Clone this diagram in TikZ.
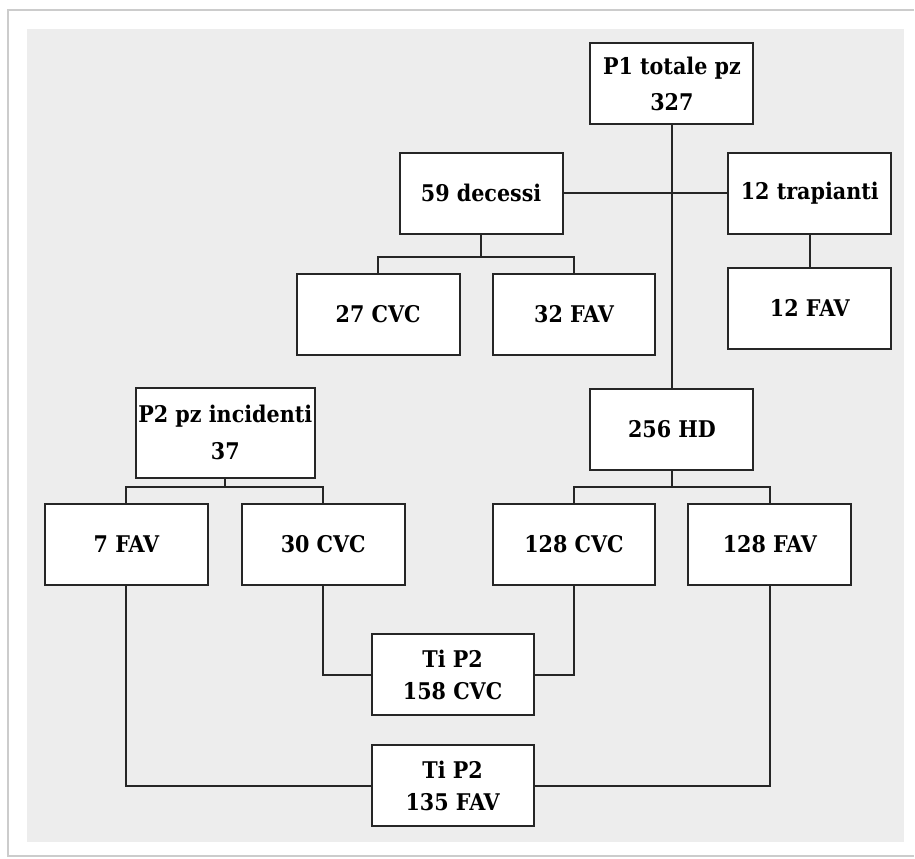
\documentclass[tikz,border=0pt]{standalone}
\usepackage{fontspec}
\setmainfont{DejaVu Serif Condensed}
\begin{document}
\begin{tikzpicture}[x=1pt,y=-1pt,
  box/.style={draw=black!85, line width=2pt, fill=white, minimum width=163pt,
    minimum height=81pt, inner sep=0pt, align=center,
    font=\fontsize{23}{37}\selectfont\bfseries},
  tibox/.style={box, minimum width=162pt, font=\fontsize{23}{32}\selectfont\bfseries},
  conn/.style={draw=black!85, line width=2pt}]
% background and frame
\fill[white] (0,0) rectangle (915,859);
\draw[black!20, line width=1.6pt] (915,10) -- (8,10) -- (8,857) -- (915,857);
\fill[black!7] (27,29) rectangle (905,843);
% nodes
\node[box] (p1) at (672.5,84) {P1 totale pz\\327};
\node[box] (dec) at (481.5,193.5) {59 decessi};
\node[box] (tra) at (810.5,193.5) {12 trapianti};
\node[box] (cvc27) at (378.5,314.5) {27 CVC};
\node[box] (fav32) at (574.5,314.5) {32 FAV};
\node[box] (fav12) at (810.5,308.5) {12 FAV};
\node[box] (hd) at (672.5,429.5) {256 HD};
\node[box, minimum width=179pt, minimum height=90pt] (p2) at (225.5,433) {P2 pz incidenti\\37};
\node[box] (fav7) at (126.5,545) {7 FAV};
\node[box] (cvc30) at (323.5,545) {30 CVC};
\node[box] (cvc128) at (574.5,545) {128 CVC};
\node[box] (fav128) at (770.5,545) {128 FAV};
\node[tibox] (ticvc) at (453,675.5) {Ti P2\\158 CVC};
\node[tibox] (tifav) at (453,786.5) {Ti P2\\135 FAV};
% junction points
\coordinate (decbar) at (481.5,257);
\coordinate (p2bar) at (225.5,487);
\coordinate (hdbar) at (672.5,487);
% connectors
\draw[conn] (p1.south) -- (hd.north);
\draw[conn] (dec.east) -- (tra.west);
\draw[conn] (tra.south) -- (fav12.north);
\draw[conn] (dec.south) -- (decbar);
\draw[conn] (cvc27.north) |- (decbar) -| (fav32.north);
\draw[conn] (p2.south) -- (p2bar);
\draw[conn] (fav7.north) |- (p2bar) -| (cvc30.north);
\draw[conn] (hd.south) -- (hdbar);
\draw[conn] (cvc128.north) |- (hdbar) -| (fav128.north);
\draw[conn] (cvc30.south) |- (ticvc.west);
\draw[conn] (cvc128.south) |- (ticvc.east);
\draw[conn] (fav7.south) |- (tifav.west);
\draw[conn] (fav128.south) |- (tifav.east);
\end{tikzpicture}
\end{document}
